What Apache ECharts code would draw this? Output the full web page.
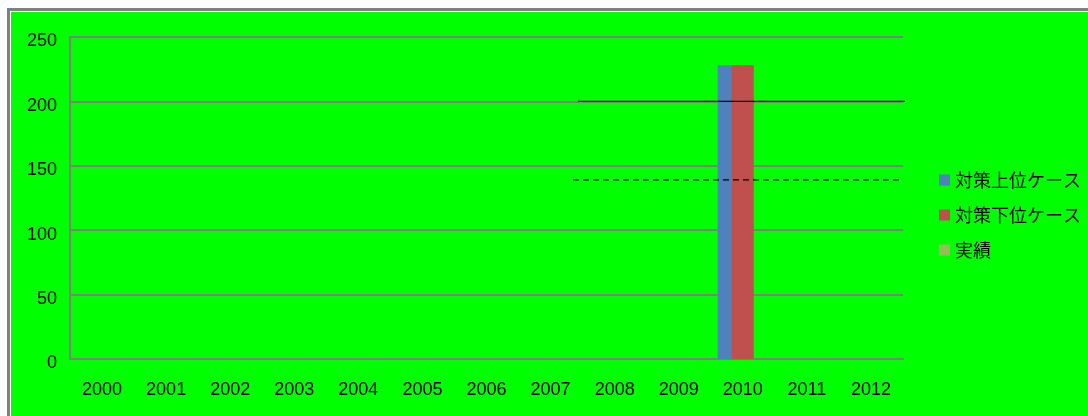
<!DOCTYPE html>
<html>
<head>
<meta charset="utf-8">
<script src="https://cdn.jsdelivr.net/npm/echarts@6/dist/echarts.min.js"></script>
<style>
  html, body { margin: 0; padding: 0; background: #ffffff; overflow: hidden; }
  #frame {
    position: absolute; left: 7px; top: 8px;
    width: 1200px; height: 500px;
    border: 3px solid #808080;
    box-sizing: border-box;
  }
  #inner {
    position: absolute; left: 0; top: 0; right: 0; bottom: 0;
    border-left: 1px solid #ffffff; border-top: 1px solid #ffffff;
    background: #00ff00;
  }
  #chart { position: absolute; left: 0; top: 0; width: 1180px; height: 480px; }
</style>
</head>
<body>
<div id="frame"><div id="inner"><div id="chart"></div></div></div>
<script>
// Fiscal years on the category axis
const years = ['2000','2001','2002','2003','2004','2005','2006','2007','2008','2009','2010','2011','2012'];

// Scenario values per year
const upperCase = [null,null,null,null,null,null,null,null,null,null,228,null,null];
const lowerCase = [null,null,null,null,null,null,null,null,null,null,228,null,null];
const actual    = [null,null,null,null,null,null,null,null,null,null,null,null,null];

// Target lines, positioned along a 0..13 span that mirrors the year slots
const targetSolid  = [[7.93, 200], [13.06, 200]];
const targetDashed = [[7.85, 139], [12.95, 139]];

// Value-axis ticks
const yMin = 0, yMax = 250, yStep = 50;

const latin = '"Liberation Sans", Arial, sans-serif';
const cjk = '"Noto Sans CJK JP", "Noto Sans", sans-serif';

const chart = echarts.init(document.getElementById('chart'), null, { renderer: 'canvas' });

chart.setOption({
  backgroundColor: 'transparent',
  animation: false,
  grid: { left: 59, top: 25, width: 833, height: 322, containLabel: false },
  legend: {
    orient: 'vertical',
    left: 928, top: 158,
    padding: 0,
    itemWidth: 11, itemHeight: 11, itemGap: 15,
    icon: 'rect',
    textStyle: { fontFamily: cjk, fontSize: 18, color: '#000', lineHeight: 20 },
    data: ['対策上位ケース', '対策下位ケース', '実績']
  },
  xAxis: [
    {
      type: 'category',
      data: years,
      axisLine: { lineStyle: { color: '#808080', width: 2 } },
      axisTick: { show: false },
      axisLabel: { fontFamily: latin, fontSize: 18, color: '#000', margin: 22 },
      splitLine: { show: false }
    },
    { type: 'value', min: 0, max: 13, show: false }
  ],
  yAxis: {
    type: 'value', min: yMin, max: yMax, interval: yStep,
    axisLine: { show: true, lineStyle: { color: '#808080', width: 2 } },
    axisTick: { show: false },
    axisLabel: {
      fontFamily: latin, fontSize: 18, color: '#000', margin: 13,
      formatter: '{v|{value}}',
      rich: { v: { fontFamily: latin, fontSize: 18, color: '#000', padding: [9, 0, 0, 0] } }
    },
    splitLine: { lineStyle: { color: '#808080', width: 2 } }
  },
  series: [
    { name: '対策上位ケース', type: 'bar', data: upperCase, barWidth: 22, barGap: '-36%',
      itemStyle: { color: '#4F81BD' } },
    { name: '対策下位ケース', type: 'bar', data: lowerCase, barWidth: 22, barGap: '-36%',
      itemStyle: { color: '#C0504D' } },
    { name: '実績', type: 'bar', data: actual, barWidth: 22, barGap: '-36%',
      itemStyle: { color: '#9BBB59' } },
    { type: 'line', xAxisIndex: 1, data: targetSolid, symbol: 'none', clip: false, silent: true,
      lineStyle: { color: '#000', width: 1.2 }, z: 5 },
    { type: 'line', xAxisIndex: 1, data: targetDashed, symbol: 'none', clip: false, silent: true,
      lineStyle: { color: '#000', width: 1.2, type: [6, 4] }, z: 5 }
  ]
});
</script>
</body>
</html>
